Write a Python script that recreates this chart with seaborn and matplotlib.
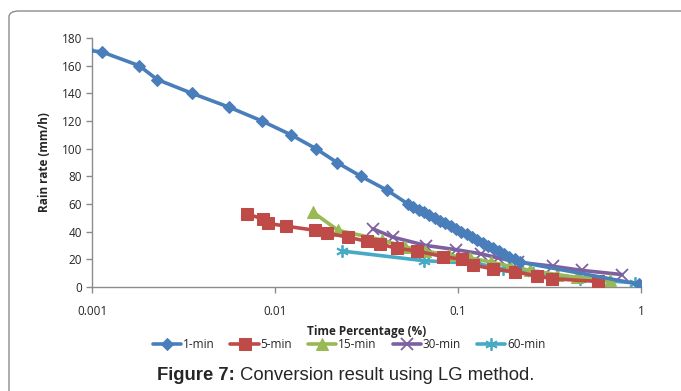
import matplotlib
matplotlib.use("Agg")
import matplotlib.pyplot as plt
from matplotlib.patches import FancyBboxPatch
import seaborn as sns
import pandas as pd

# ---- data ----
x_1min = [0.00095, 0.00113, 0.00181, 0.00227, 0.00352, 0.00561, 0.00849, 0.01223, 0.01674,
          0.02182, 0.02951, 0.04093, 0.0533, 0.0568, 0.0612, 0.0652, 0.0694, 0.0749, 0.0797,
          0.0849, 0.0915, 0.0975, 0.1038, 0.1120, 0.1193, 0.1270, 0.1370, 0.1459, 0.1554,
          0.1675, 0.1784, 0.1900, 0.2049, 0.2182, 0.98]
y_1min = [171, 170, 160, 150, 140, 130, 120, 110, 100, 90, 80, 70, 60, 58, 56, 54, 52, 50, 48,
          46, 44, 42, 40, 38, 36, 34, 32, 30, 28, 26, 24, 22, 20, 18, 2]

x_5min = [0.00703, 0.0086, 0.00916, 0.01148, 0.01654, 0.01924, 0.02505, 0.03183, 0.03749,
          0.04642, 0.0597, 0.08279, 0.1052, 0.1208, 0.1554, 0.2049, 0.2702, 0.3264, 0.5821]
y_5min = [53, 49, 46, 44, 41, 39, 36, 33, 31, 28, 26, 22, 20, 16, 13, 11, 8, 6, 4]

x_15min = [0.01613, 0.0221, 0.03843, 0.05133, 0.066, 0.08929, 0.1163, 0.1515, 0.1924,
           0.2474, 0.3475, 0.447, 0.6771]
y_15min = [54, 41, 34, 29, 26, 23, 21, 18, 15, 12, 9, 7, 5]

x_30min = [0.03431, 0.04414, 0.06686, 0.09752, 0.1336, 0.1654, 0.2128, 0.3306, 0.476, 0.7873]
y_30min = [42, 36, 30, 27, 24, 21, 18, 15, 12, 9]

x_60min = [0.02323, 0.0652, 0.127, 0.1762, 0.257, 0.4642, 0.9272]
y_60min = [26, 19, 17, 13, 10, 6, 3]

series_names = ["1-min", "5-min", "15-min", "30-min", "60-min"]
x_ticks = [0.001, 0.01, 0.1, 1]
x_tick_labels = ["0.001", "0.01", "0.1", "1"]
y_ticks = [0, 20, 40, 60, 80, 100, 120, 140, 160, 180]

# ---- styling ----
sns.set_style("white")
plt.rcParams["font.family"] = ["Open Sans", "DejaVu Sans"]

colors = ["#4A7EBB", "#BE4B48", "#98B954", "#7D60A0", "#46AAC5"]
markers = ["D", "s", "^", "x", (6, 2, 0)]
msizes = [6.5, 8, 8, 8, 9]

fig = plt.figure(figsize=(6.81, 3.91), dpi=100)
W, H = 681, 391
ax = fig.add_axes([92 / W, 1 - 287 / H, (641 - 92) / W, (287 - 38) / H])

# rounded frame around the chart (only top-left corner visible)
frame = FancyBboxPatch((9 / W, -0.2), 1.2, 1 - 11 / H + 0.2,
                       boxstyle="round,pad=0,rounding_size=0.015",
                       transform=fig.transFigure, fill=False,
                       edgecolor="#8C8C8C", linewidth=1.0, zorder=0)
fig.patches.append(frame)

data = [(x_1min, y_1min), (x_5min, y_5min), (x_15min, y_15min),
        (x_30min, y_30min), (x_60min, y_60min)]

for i, (name, (xs, ys)) in enumerate(zip(series_names, data)):
    df = pd.DataFrame({"x": xs, "y": ys})
    mk = markers[i]
    if mk == "x" or isinstance(mk, tuple):
        kw = dict(markeredgewidth=1.3, markeredgecolor=colors[i])
    else:
        kw = dict(markeredgecolor=colors[i])
    sns.lineplot(data=df, x="x", y="y", ax=ax, color=colors[i], linewidth=2.6,
                 marker=mk, markersize=msizes[i], sort=False, label=name,
                 zorder=3.5 if i == 0 else 3 + (4 - i) * 0.1, **kw)

ax.set_xscale("log")
ax.set_xlim(0.001, 1)
ax.set_ylim(0, 180)
ax.set_xticks(x_ticks)
ax.set_xticklabels(x_tick_labels)
ax.minorticks_off()
ax.set_yticks(y_ticks)

for s in ["top", "right"]:
    ax.spines[s].set_visible(False)
for s in ["left", "bottom"]:
    ax.spines[s].set_color("#8C8C8C")
    ax.spines[s].set_linewidth(1.0)

ax.tick_params(axis="y", direction="out", length=4, width=1, color="#8C8C8C",
               labelsize=8.5, pad=3, left=True)
ax.tick_params(axis="x", direction="out", length=4, width=1, color="#8C8C8C",
               labelsize=8.5, pad=9, bottom=True)

ax.set_xlabel("Time Percentage (%)", fontsize=8.5, fontweight="bold", labelpad=5)
ax.set_ylabel("Rain rate (mm/h)", fontsize=8.5, fontweight="bold", labelpad=8)

leg = ax.legend(loc="center", ncol=5, frameon=False,
                fontsize=8.5, handlelength=2.4, handletextpad=0.15,
                columnspacing=1.35, borderaxespad=0, borderpad=0)
leg.set_bbox_to_anchor((349 / W, 1 - 345 / H), transform=fig.transFigure)

fig.canvas.draw()
renderer = fig.canvas.get_renderer()
t1 = fig.text(157 / W, 1 - 376 / H, "Figure 7:", fontsize=13.3, fontweight="bold",
              family=["Liberation Sans", "DejaVu Sans"], ha="left", va="center")
bb = t1.get_window_extent(renderer=renderer)
x2 = (bb.x1 + 5) / W
fig.text(x2, 1 - 376 / H, "Conversion result using LG method.", fontsize=13.3,
         family=["Liberation Sans", "DejaVu Sans"], ha="left", va="center")

fig.savefig("out.png", dpi=100)
